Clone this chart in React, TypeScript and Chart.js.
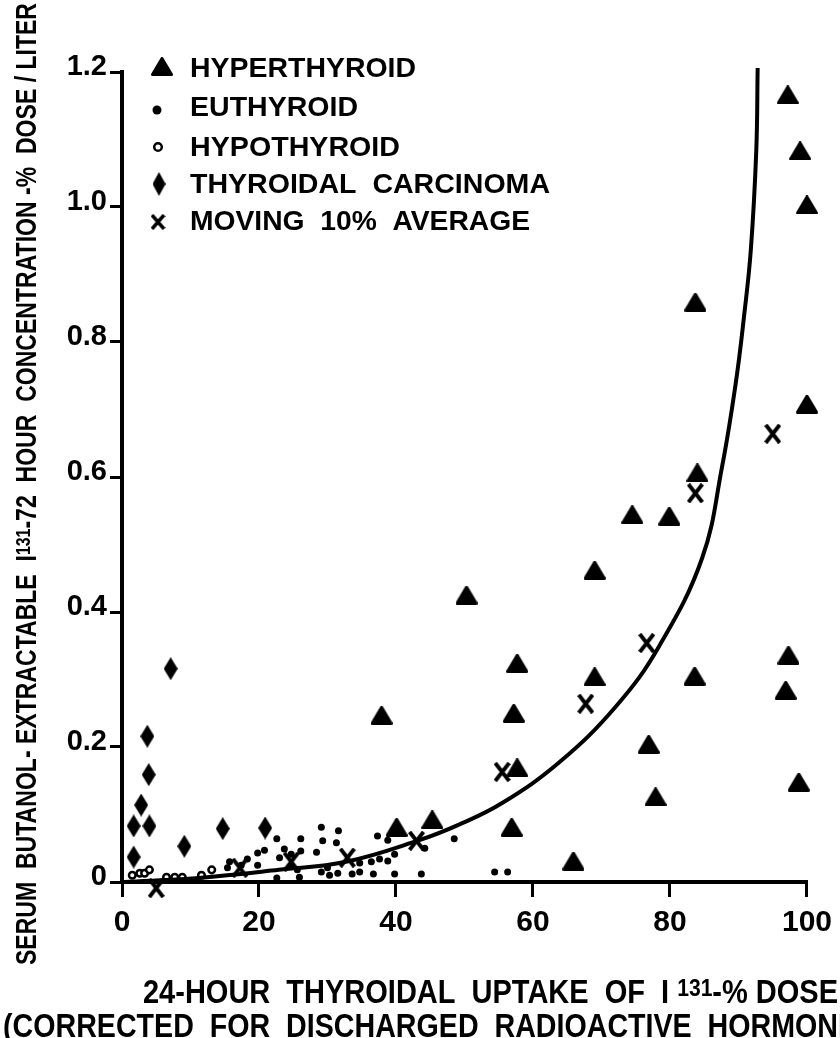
import React, { useEffect, useRef } from 'react';
import { Chart, registerables } from 'chart.js';

Chart.register(...registerables);

// ---------- data ----------
const hyperthyroidX = [97.2, 99.0, 100, 83.7, 100, 84.0, 74.5, 79.9, 69.0, 50.3, 57.7, 69.0, 83.6, 97.3, 96.9, 37.9, 57.2, 76.9, 57.7, 98.8, 77.9, 56.9, 40.1, 45.3, 65.9];
const hyperthyroidY = [1.166, 1.083, 1.003, 0.859, 0.708, 0.606, 0.544, 0.542, 0.462, 0.425, 0.324, 0.304, 0.305, 0.336, 0.284, 0.247, 0.250, 0.204, 0.169, 0.148, 0.126, 0.081, 0.081, 0.092, 0.031];

const euthyroidX = [29.1, 31.6, 22.6, 26.1, 29.3, 31.3, 37.3, 38.8, 48.5, 44.2, 20.8, 23.7, 26.1, 28.4, 19.8, 23.0, 24.7, 18.3, 15.7, 17.4, 15.4, 19.8, 24.7, 25.6, 25.9, 22.6, 29.1, 30.3, 30.0, 31.5, 34.7, 36.4, 37.6, 38.8, 39.8, 34.7, 33.6, 36.7, 39.8, 43.7, 54.4, 56.3];
const euthyroidY = [0.081, 0.076, 0.064, 0.064, 0.061, 0.058, 0.068, 0.062, 0.064, 0.050, 0.047, 0.049, 0.046, 0.044, 0.043, 0.036, 0.041, 0.034, 0.030, 0.025, 0.021, 0.025, 0.025, 0.018, 0.007, 0.006, 0.015, 0.010, 0.021, 0.013, 0.028, 0.030, 0.034, 0.031, 0.041, 0.015, 0.012, 0.012, 0.012, 0.012, 0.015, 0.015];

const hypothyroidX = [1.5, 2.6, 3.3, 4.0, 6.5, 7.7, 8.8, 11.6, 13.1];
const hypothyroidY = [0.010, 0.013, 0.013, 0.018, 0.007, 0.007, 0.007, 0.010, 0.018];

const carcinomaX = [7.1, 3.7, 3.9, 2.8, 1.7, 4.0, 1.7, 9.1, 14.7, 20.9];
const carcinomaY = [0.316, 0.216, 0.159, 0.114, 0.083, 0.083, 0.037, 0.053, 0.079, 0.080];

const movingAvgX = [5.0, 17.2, 24.7, 32.9, 43.0, 55.5, 67.7, 76.6, 83.7, 95.0];
const movingAvgY = [-0.009, 0.021, 0.030, 0.036, 0.061, 0.163, 0.264, 0.354, 0.576, 0.664];

const curveX = [0.3, 11.2, 22.9, 32.7, 43.4, 49.2, 55.5, 63.8, 72.1, 78.4, 84.7, 87.6, 89.6, 90.8, 91.8, 92.6, 92.8];
const curveY = [0.0, 0.006, 0.018, 0.030, 0.062, 0.085, 0.117, 0.177, 0.260, 0.349, 0.480, 0.615, 0.739, 0.837, 0.936, 1.084, 1.206];

const xTicks = [0, 20, 40, 60, 80, 100];
const yTicks = [0, 0.2, 0.4, 0.6, 0.8, 1.0, 1.2];

const legendLabels = ['HYPERTHYROID', 'EUTHYROID', 'HYPOTHYROID', 'THYROIDAL  CARCINOMA', 'MOVING  10%  AVERAGE'];

const xTitleLine1 = [{ t: '24-HOUR  THYROIDAL  UPTAKE  OF  I ' }, { t: '131', sup: true }, { t: '-% DOSE' }];
const xTitleLine2 = '(CORRECTED  FOR  DISCHARGED  RADIOACTIVE  HORMONE)';
const yTitle = [{ t: 'SERUM  BUTANOL- EXTRACTABLE  I' }, { t: '131', sup: true }, { t: '-72  HOUR  CONCENTRATION -%  DOSE / LITER' }];

// ---------- helpers ----------
const FAMILY = '"Liberation Sans", Arial, sans-serif';

function pts(xs: number[], ys: number[]) {
  return xs.map((x, i) => ({ x, y: ys[i] }));
}

function makeTriangle(w: number, h: number) {
  const c = document.createElement('canvas');
  c.width = w; c.height = h;
  const g = c.getContext('2d')!;
  g.fillStyle = '#000'; g.strokeStyle = '#000'; g.lineWidth = 3; g.lineJoin = 'round';
  g.beginPath();
  g.moveTo(w / 2, 1.5); g.lineTo(w - 1.5, h - 1.5); g.lineTo(1.5, h - 1.5); g.closePath();
  g.fill(); g.stroke();
  return c;
}
function makeDiamond(w: number, h: number) {
  const c = document.createElement('canvas');
  c.width = w; c.height = h;
  const g = c.getContext('2d')!;
  g.fillStyle = '#000';
  g.beginPath();
  g.moveTo(w / 2, 0); g.lineTo(w, h / 2); g.lineTo(w / 2, h); g.lineTo(0, h / 2); g.closePath();
  g.fill();
  return c;
}
function makeCross(w: number, h: number, lw: number) {
  const c = document.createElement('canvas');
  c.width = w; c.height = h;
  const g = c.getContext('2d')!;
  g.strokeStyle = '#000'; g.lineWidth = lw; g.lineCap = 'butt';
  g.beginPath();
  g.moveTo(1.5, 1); g.lineTo(w - 1.5, h - 1);
  g.moveTo(w - 1.5, 1); g.lineTo(1.5, h - 1);
  g.stroke();
  return c;
}

type Part = { t: string; sup?: boolean };
function runWidth(ctx: CanvasRenderingContext2D, parts: Part[], size: number, supSize: number) {
  let w = 0;
  for (const p of parts) {
    ctx.font = `bold ${p.sup ? supSize : size}px ${FAMILY}`;
    w += ctx.measureText(p.t).width;
  }
  return w;
}
function drawRun(ctx: CanvasRenderingContext2D, parts: Part[], size: number, supSize: number, rise: number) {
  let x = 0;
  for (const p of parts) {
    ctx.font = `bold ${p.sup ? supSize : size}px ${FAMILY}`;
    ctx.fillText(p.t, x, p.sup ? -rise : 0);
    x += ctx.measureText(p.t).width;
  }
}

export default function App() {
  const ref = useRef<HTMLCanvasElement>(null);

  useEffect(() => {
    const canvas = ref.current!;
    const tri = makeTriangle(22, 19);
    const dia = makeDiamond(14, 23);
    const crs = makeCross(17, 20, 4);
    const triL = makeTriangle(22, 19);
    const diaL = makeDiamond(13, 24);
    const crsL = makeCross(15, 16, 3.5);

    const textPlugin = {
      id: 'texts',
      afterDraw(chart: any) {
        const ctx: CanvasRenderingContext2D = chart.ctx;
        ctx.save();
        ctx.fillStyle = '#000';
        ctx.strokeStyle = '#000';
        ctx.textBaseline = 'alphabetic';
        ctx.textAlign = 'left';

        // legend symbols
        ctx.drawImage(triL, 162 - 11, 67 - 10);
        ctx.beginPath(); ctx.arc(157, 110, 4.5, 0, Math.PI * 2); ctx.fill();
        ctx.beginPath(); ctx.arc(158, 147, 3.8, 0, Math.PI * 2); ctx.lineWidth = 2.5; ctx.stroke();
        ctx.drawImage(diaL, 159 - 6.5, 184 - 12);
        ctx.drawImage(crsL, 158 - 7.5, 222 - 8);

        // legend text
        const centers = [67, 106, 146, 183, 220];
        const widths = [226, 168, 210, 360, 340];
        legendLabels.forEach((lab, i) => {
          ctx.font = `bold 28px ${FAMILY}`;
          const w = ctx.measureText(lab).width;
          ctx.save();
          ctx.translate(190, centers[i] + 10);
          ctx.scale(widths[i] / w, 1);
          ctx.fillText(lab, 0, 0);
          ctx.restore();
        });

        // x title line 1
        {
          const w = runWidth(ctx, xTitleLine1, 33, 24);
          ctx.save();
          ctx.translate(143, 1003);
          ctx.scale((838 - 143) / w, 1);
          drawRun(ctx, xTitleLine1, 33, 24, 7);
          ctx.restore();
        }
        // x title line 2
        {
          ctx.font = `bold 33px ${FAMILY}`;
          const partial = ctx.measureText('(CORRECTED  FOR  DISCHARGED  RADIOACTIVE  HORMON').width;
          ctx.save();
          ctx.translate(3, 1037);
          ctx.scale((838 - 3) / partial, 1);
          ctx.fillText(xTitleLine2, 0, 0);
          ctx.restore();
        }
        // y title (rotated)
        {
          const w = runWidth(ctx, yTitle, 29, 20);
          ctx.save();
          ctx.translate(36, 965);
          ctx.rotate(-Math.PI / 2);
          ctx.scale((965 - 3) / w, 1);
          drawRun(ctx, yTitle, 29, 20, 6);
          ctx.restore();
        }
        ctx.restore();
      },
    };

    const tickFont = { family: FAMILY, weight: 'bold' as const };

    const chart = new Chart(canvas, {
      type: 'scatter',
      data: {
        datasets: [
          {
            label: 'curve',
            type: 'line',
            data: pts(curveX, curveY),
            borderColor: '#000',
            borderWidth: 4,
            pointRadius: 0,
            tension: 0.4,
            fill: false,
            clip: false,
          } as any,
          {
            label: 'HYPERTHYROID',
            data: pts(hyperthyroidX, hyperthyroidY),
            pointStyle: tri,
            pointRadius: 10,
            clip: false,
          } as any,
          {
            label: 'EUTHYROID',
            data: pts(euthyroidX, euthyroidY),
            pointStyle: 'circle',
            pointRadius: 3.5,
            borderWidth: 0,
            backgroundColor: '#000',
            clip: false,
          },
          {
            label: 'HYPOTHYROID',
            data: pts(hypothyroidX, hypothyroidY),
            pointStyle: 'circle',
            pointRadius: 3.3,
            borderWidth: 2.5,
            borderColor: '#000',
            backgroundColor: '#fff',
            clip: false,
          },
          {
            label: 'THYROIDAL CARCINOMA',
            data: pts(carcinomaX, carcinomaY),
            pointStyle: dia,
            pointRadius: 10,
            clip: false,
          } as any,
          {
            label: 'MOVING 10% AVERAGE',
            data: pts(movingAvgX, movingAvgY),
            pointStyle: crs,
            pointRadius: 10,
            clip: false,
          } as any,
        ],
      },
      options: {
        responsive: false,
        animation: false,
        devicePixelRatio: 1,
        layout: { padding: { top: 72, right: 32, left: 0, bottom: 0 } },
        plugins: {
          legend: { display: false },
          tooltip: { enabled: false },
        },
        scales: {
          x: {
            type: 'linear',
            min: 0,
            max: 100,
            afterFit: (s: any) => { s.height = 156; },
            afterBuildTicks: (s: any) => { s.ticks = xTicks.map((v) => ({ value: v })); },
            border: { display: true, color: '#000', width: 4 },
            grid: { drawOnChartArea: false, drawTicks: true, color: '#000', lineWidth: 3, tickLength: 15 },
            ticks: {
              color: '#000',
              font: { ...tickFont, size: 30 },
              padding: 8,
              maxRotation: 0,
              autoSkip: false,
              callback: (v: any) => String(v),
            },
          },
          y: {
            type: 'linear',
            min: 0,
            max: 1.2,
            afterFit: (s: any) => { s.width = 122; },
            afterBuildTicks: (s: any) => { s.ticks = yTicks.map((v) => ({ value: v })); },
            border: { display: true, color: '#000', width: 4 },
            grid: { drawOnChartArea: false, drawTicks: true, color: '#000', lineWidth: 3, tickLength: 12 },
            ticks: {
              color: '#000',
              font: { ...tickFont, size: 29 },
              padding: 3,
              labelOffset: -5,
              autoSkip: false,
              callback: (v: any) => (Number(v) === 0 ? '0' : Number(v).toFixed(1)),
            },
          },
        },
      },
      plugins: [textPlugin],
    } as any);

    return () => chart.destroy();
  }, []);

  return (
    <div style={{ position: 'fixed', left: 0, top: 0, width: 840, height: 1038, background: '#fff' }}>
      <canvas ref={ref} width={840} height={1038} style={{ display: 'block', width: 840, height: 1038 }} />
    </div>
  );
}
